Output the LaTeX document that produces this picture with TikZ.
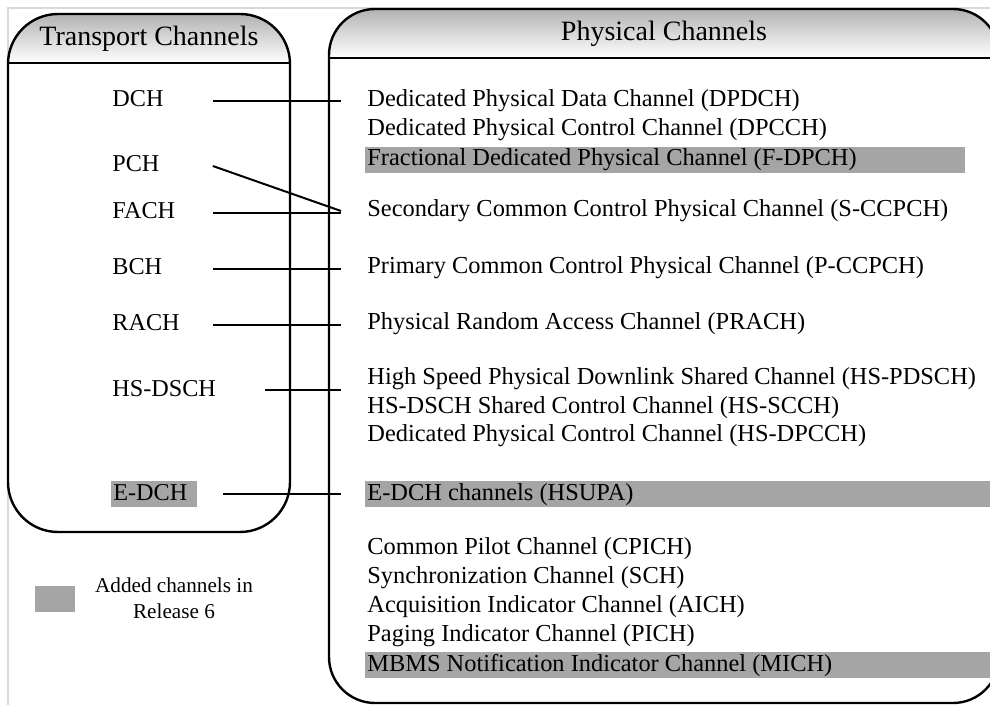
\documentclass[tikz,border=0pt]{standalone}
\usepackage{fontspec}
\setmainfont{Liberation Serif}
\definecolor{addgray}{RGB}{165,165,165}
\tikzset{
    tchan/.style={anchor=west,inner xsep=1pt,inner ysep=0.5pt,text height=9pt,text depth=3pt,align=flush left,font=\fontsize{12.1}{14}\selectfont},
    pchan/.style={anchor=west,inner xsep=1pt,inner ysep=0.5pt,text height=9pt,text depth=3pt,font=\fontsize{12.2}{14}\selectfont},
    header/.style={font=\fontsize{14}{16}\selectfont},
    box/.style={line width=1.2pt},
    link/.style={line width=1pt}
}
\newcommand{\transport}[4]{\node[tchan,text width=#3] (#1) at (110,#2) {#4};}
\newcommand{\physical}[3]{\node[pchan] (#1) at (365,#2) {#3};}
\newcommand{\addedchan}[4]{\node[pchan,fill=addgray,text width=#3,align=flush left] (#1) at (365,#2) {#4};}
\newcommand{\chanlink}[2]{\draw[link] (#1.east) -- ([xshift=-12pt]#1.east -| #2.west);}

\begin{document}
\begin{tikzpicture}[x=0.5pt,y=-0.5pt]
    \clip (0,0) rectangle (990,705);
    \draw[gray!30,line width=0.6pt] (8,705) -- (8,8) -- (990,8);
    \begin{scope}
        \clip[rounded corners=25pt] (8,14) rectangle (290,532);
        \shade[top color=gray!60,bottom color=white] (8,14) rectangle (290,63);
    \end{scope}
    \begin{scope}
        \clip[rounded corners=23pt] (329,9) rectangle (999,703);
        \shade[top color=gray!60,bottom color=white] (329,9) rectangle (999,58);
    \end{scope}
    \draw[box,rounded corners=25pt] (8,14) rectangle (290,532); \draw[box] (8,63) -- (290,63);
    \draw[box,rounded corners=23pt] (329,9) rectangle (999,703); \draw[box] (329,58) -- (999,58);
    \node[header] (thead) at (149,39) {Transport Channels};
    \node[header] (phead) at (664,34) {Physical Channels};

    \transport{DCH}{101}{49pt}{DCH}    \transport{PCH}{166}{49pt}{PCH}
    \transport{FACH}{213}{49pt}{FACH}    \transport{BCH}{269}{49pt}{BCH}
    \transport{RACH}{325}{49pt}{RACH}    \transport{HSDSCH}{390}{75pt}{HS-DSCH}
    \node[tchan,fill=addgray,text width=41pt] (EDCH) at (111,494) {E-DCH};

    \physical{DPDCH}{101}{Dedicated Physical Data Channel (DPDCH)}
    \physical{DPCCH}{130}{Dedicated Physical Control Channel (DPCCH)}
    \addedchan{FDPCH}{160}{298pt}{Fractional Dedicated Physical Channel (F-DPCH)}
    \physical{SCCPCH}{211}{Secondary Common Control Physical Channel (S-CCPCH)}
    \physical{PCCPCH}{268}{Primary Common Control Physical Channel (P-CCPCH)}
    \physical{PRACH}{324}{Physical Random Access Channel (PRACH)}
    \physical{HSPDSCH}{379}{High Speed Physical Downlink Shared Channel (HS-PDSCH)}
    \physical{HSSCCH}{408}{HS-DSCH Shared Control Channel (HS-SCCH)}
    \physical{HSDPCCH}{436}{Dedicated Physical Control Channel (HS-DPCCH)}
    \addedchan{EDCHch}{494}{316pt}{E-DCH channels (HSUPA)}
    \physical{CPICH}{548}{Common Pilot Channel (CPICH)}
    \physical{SCH}{577}{Synchronization Channel (SCH)}
    \physical{AICH}{606}{Acquisition Indicator Channel (AICH)}
    \physical{PICH}{635}{Paging Indicator Channel (PICH)}
    \addedchan{MICH}{665}{316pt}{MBMS Notification Indicator Channel (MICH)}

    \chanlink{DCH}{DPDCH} \chanlink{FACH}{SCCPCH} \chanlink{BCH}{PCCPCH}
    \chanlink{RACH}{PRACH} \chanlink{HSDSCH}{HSPDSCH}
    \draw[link] (PCH.east) -- ([xshift=-12pt]SCCPCH.west);
    \draw[link] ([xshift=12.5pt]EDCH.east) -- ([xshift=-12pt]EDCH.east -| EDCHch.west);

    \node[fill=addgray,minimum width=20pt,minimum height=13pt,inner sep=0pt] (key) at (55,599) {};
    \node[font=\fontsize{10.6}{13}\selectfont,align=center] (keytext) at (174,598) {Added channels in\\Release 6};
\end{tikzpicture}
\end{document}
